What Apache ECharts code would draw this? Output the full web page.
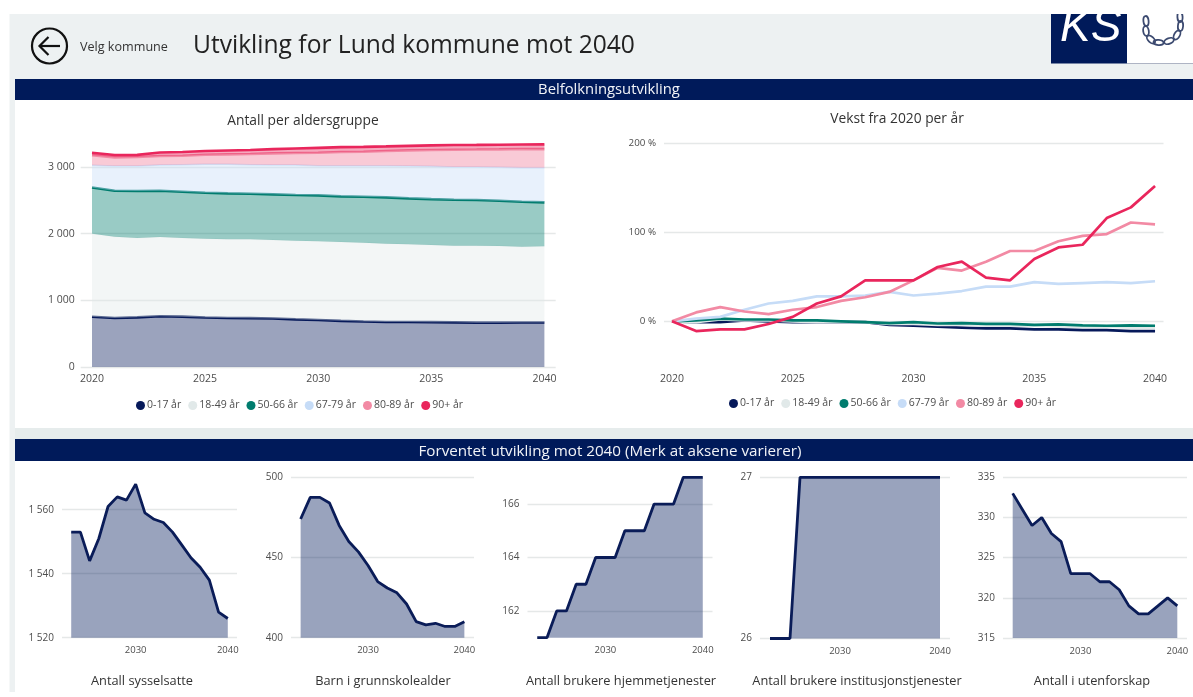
<!DOCTYPE html>
<html><head><meta charset="utf-8">
<style>html,body{margin:0;padding:0;background:#fff}#c{width:1193px;height:697px}</style>
<script src="https://cdn.jsdelivr.net/npm/echarts@6/dist/echarts.min.js"></script>
</head><body><div id="c"></div>
<script>
const years=[2020,2021,2022,2023,2024,2025,2026,2027,2028,2029,2030,2031,2032,2033,2034,2035,2036,2037,2038,2039,2040];
const ageNames=['0-17 år','18-49 år','50-66 år','67-79 år','80-89 år','90+ år'];
const ageColors=['#06195a','#e1e9e9','#007c6e','#c6dcf7','#f28aa4','#e9265c'];
const count0_17=[755,735,745,762,755,742,735,733,728,715,705,692,682,675,675,673,670,665,665,667,668];
const count18_49=[1245,1220,1190,1188,1180,1183,1180,1182,1177,1180,1180,1183,1183,1175,1165,1157,1150,1155,1150,1138,1142];
const count50_66=[694,690,705,695,695,688,690,685,685,685,690,685,690,695,690,688,690,685,680,675,660];
const count67_79=[334,370,375,385,405,427,435,435,440,450,445,460,465,475,485,492,490,495,500,510,518];
const count80_89=[150,130,135,135,135,145,150,160,175,180,195,205,210,220,235,245,260,262,270,280,280];
const count90=[35,35,32,53,55,55,58,60,63,68,73,73,73,70,68,70,70,70,70,68,72];
const growth0_17=[0,-1,-1,1,0,-1,-1,-1,-1,-4,-5,-6,-7,-8,-8,-9,-9,-10,-10,-11,-11];
const growth18_49=[0,-1,2,1,1,0,-1,-1,-1,-3,-3,-4,-4,-5,-5,-5,-6,-6,-6,-7,-7];
const growth50_66=[0,1,3,2,2,1,1,0,-1,-2,-1,-2.5,-2,-3,-3,-4,-3.5,-4.5,-5,-4.5,-5];
const growth67_79=[0,3,5,13,20,23,28,28,29,33,29,31,34,39,39,44,42,43,44,43,45];
const growth80_89=[0,10,16,11,8,13,16,23,27,33,46,60,57,67,79,79,90,96,98,111,109];
const growth90=[0,-11,-9,-9,-3,5,20,28,46,46,46,61,67,49,46,70,83,86,116,128,152];
const smallYears=[2023,2024,2025,2026,2027,2028,2029,2030,2031,2032,2033,2034,2035,2036,2037,2038,2039,2040];
const sysselsatte=[1553,1553,1544,1551,1561,1564,1563,1568,1559,1557,1556,1553,1549,1545,1542,1538,1528,1526];
const grunnskole=[474,487.5,487.5,484,470,460,453.5,445,435,431,428,421,410,408,409,407,407,410];
const hjemmetjenester=[161,161,162,162,163,163,164,164,164,165,165,165,166,166,166,167,167,167];
const institusjon=[26,26,26,27,27,27,27,27,27,27,27,27,27,27,27,27,27,27];
const utenforskap=[333,331,329,330,328,327,323,323,323,322,322,321,319,318,318,319,320,319];
const smallTitles=['Antall sysselsatte','Barn i grunnskolealder','Antall brukere hjemmetjenester','Antall brukere institusjonstjenester','Antall i utenforskap'];
const bigXTicks=[2020,2025,2030,2035,2040];
const smallXTicks=[2030,2040];

const FONT='"Open Sans","Noto Sans",sans-serif';
const NAVY='#001a5a', GRID='#e5e8e8', LABEL='#4d4d4d';
const spaced=v=>String(v).replace(/\B(?=(\d{3})+$)/g,' ');
const pairs=(xs,ys)=>xs.map((x,i)=>[x,ys[i]]);

const grids=[],xAxes=[],yAxes=[],series=[];
function addChart(g,xr,xticks,yr,yticks,fmt,ySize,xSize,yMargin){
  const i=grids.length;
  grids.push(Object.assign({containLabel:false},g));
  xAxes.push({gridIndex:i,type:'value',min:xr[0],max:xr[1],
    axisLine:{show:false,onZero:false},axisTick:{show:false,customValues:xticks},splitLine:{show:false},
    axisLabel:{customValues:xticks,color:LABEL,fontSize:xSize,fontFamily:FONT,margin:8,hideOverlap:false,showMinLabel:true,showMaxLabel:true,formatter:v=>String(v)}});
  yAxes.push({gridIndex:i,type:'value',min:yr[0],max:yr[1],
    axisLine:{show:false},axisTick:{show:false,customValues:yticks},
    splitLine:{show:true,lineStyle:{color:GRID,width:1.3}},
    axisLabel:{customValues:yticks,color:LABEL,fontSize:ySize,fontFamily:FONT,margin:yMargin||8,formatter:fmt}});
  return i;
}

// Top left: stacked area on a category axis
const a0=addChart({left:80.7,top:133.7,width:475,height:233.3},[0,1],bigXTicks,[0,3500],[0,1000,2000,3000],spaced,10.5,10.5,6);
xAxes[a0]={gridIndex:a0,type:'category',data:years.map(String),boundaryGap:true,
  axisLine:{show:false,onZero:false},axisTick:{show:false},splitLine:{show:false},
  axisLabel:{interval:4,color:LABEL,fontSize:10.5,fontFamily:FONT,margin:7,hideOverlap:false}};
[count0_17,count18_49,count50_66,count67_79,count80_89,count90].forEach((d,k)=>{
  series.push({name:ageNames[k],type:'line',xAxisIndex:a0,yAxisIndex:a0,stack:'alder',data:d,
    symbol:'none',showSymbol:false,z:2+k,itemStyle:{color:ageColors[k]},
    lineStyle:{color:k===1?'#f0f4f4':k===3?'#cfe2f8':ageColors[k],width:k===1?1:k===3?1.5:2.6},
    areaStyle:{color:ageColors[k],opacity:k===4?0.45:0.4}});
});
// Top right: growth lines
const a1=addChart({left:664,top:143.3,width:499.5,height:222.5},[2019.67,2040.35],bigXTicks,[-50,200],[0,100,200],v=>v+' %',9.8,10.5,8);
[growth0_17,growth18_49,growth50_66,growth67_79,growth80_89,growth90].forEach((d,k)=>{
  series.push({name:ageNames[k],type:'line',xAxisIndex:a1,yAxisIndex:a1,data:pairs(years,d),
    symbol:'none',showSymbol:false,z:2+k,itemStyle:{color:ageColors[k]},
    lineStyle:{color:ageColors[k],width:2.7}});
});
// Bottom row
const smalls=[
 {d:sysselsatte,l:62,w:175,y:[1520,1570],t:477.7,b:637.7,ticks:[1520,1540,1560]},
 {d:grunnskole,l:291,w:183,y:[400,500],t:477.3,b:637.7,ticks:[400,450,500]},
 {d:hjemmetjenester,l:527.5,w:185,y:[161,167],t:477.3,b:637.7,ticks:[162,164,166]},
 {d:institusjon,l:760,w:190,y:[26,27],t:477.3,b:638.5,ticks:[26,27]},
 {d:utenforskap,l:1003,w:184,y:[315,335],t:477.3,b:638,ticks:[315,320,325,330,335]}
];
smalls.forEach(s=>{
  const i=addChart({left:s.l,top:s.t,width:s.w,height:s.b-s.t},[2022,2041],smallXTicks,s.y,s.ticks,spaced,10,9.5,8);
  series.push({type:'line',xAxisIndex:i,yAxisIndex:i,data:pairs(smallYears,s.d),symbol:'none',showSymbol:false,z:3,
    lineStyle:{color:'#0a1c58',width:2.8},itemStyle:{color:'#0a1c58'},areaStyle:{color:NAVY,opacity:0.4,origin:'start'}});
});

const titleStyle=(s,c)=>({color:c||'#333',fontSize:s,fontFamily:FONT,fontWeight:'normal'});
const titles=[
 {text:'Antall per aldersgruppe',left:303,top:121,padding:0,textAlign:'center',textVerticalAlign:'middle',textStyle:titleStyle(13.8)},
 {text:'Vekst fra 2020 per år',left:897,top:119,padding:0,textAlign:'center',textVerticalAlign:'middle',textStyle:titleStyle(13.8)}
];
[142,383,621,857,1092].forEach((x,k)=>titles.push({text:smallTitles[k],left:x,top:681,padding:0,textAlign:'center',textVerticalAlign:'middle',textStyle:titleStyle(12.8)}));

const legendBase={data:ageNames,icon:'circle',itemWidth:9,itemHeight:9,itemGap:7,textStyle:{color:LABEL,fontSize:10.5,fontFamily:FONT,padding:[0,0,0,-3]},orient:'horizontal',selectedMode:false,padding:0};

function rect(x,y,w,h,fill,z){return {type:'rect',shape:{x,y,width:w,height:h},style:{fill},z:z===undefined?-10:z,silent:true};}
function txt(x,y,t,size,fill,align,z,extra){return {type:'text',x,y,style:Object.assign({text:t,fontSize:size,fontFamily:FONT,fill,textAlign:align||'left',textVerticalAlign:'middle'},extra||{}),z:z===undefined?20:z,silent:true};}
function link(cx,cy,rx,ry,rot){return {type:'ellipse',x:cx,y:cy,rotation:rot,shape:{cx:0,cy:0,rx,ry},style:{fill:'none',stroke:'#3c4a70',lineWidth:1.8},z:21,silent:true};}

const graphics=[
 rect(9.5,14,1184,678,'#edf1f2'),
 rect(15,100,1178,328,'#ffffff'),
 rect(15,428,1178,11,'#e6ecec'),
 rect(15,461,1178,231,'#ffffff'),
 rect(15,79,1178,21,NAVY,5),
 rect(15,439,1178,22,NAVY,5),
 txt(609,89.5,'Belfolkningsutvikling',14.8,'#f2f4f8','center',6),
 txt(610,451.5,'Forventet utvikling mot 2040 (Merk at aksene varierer)',15.2,'#f2f4f8','center',6),
 // back button
 {type:'circle',shape:{cx:49.5,cy:46,r:17.5},style:{fill:'none',stroke:'#111',lineWidth:2.2},z:10,silent:true},
 {type:'polyline',shape:{points:[[40,46],[60,46]]},style:{stroke:'#111',lineWidth:2.2,fill:'none'},z:10,silent:true},
 {type:'polyline',shape:{points:[[48.5,37],[39.5,46],[48.5,55]]},style:{stroke:'#111',lineWidth:2.2,fill:'none'},z:10,silent:true},
 txt(80,47.5,'Velg kommune',12.6,'#333'),
 txt(193,45.5,'Utvikling for Lund kommune mot 2040',24.6,'#222'),
 // logo
 rect(1051,14,76,49.5,NAVY,15),
 rect(1127,14,66,49.5,'#ffffff',15),
 rect(1127,63,66,1,'#aeb4c4',15),
 txt(1060,28,'KS',46,'#ffffff','left',16,{fontFamily:'"Liberation Sans",sans-serif',fontStyle:'italic',fontWeight:'normal'}),
 link(1146,21,2.6,5,0.1),link(1146,31,2.8,5,0.15),link(1151,39.5,5,2.8,-0.75),link(1158.5,42.5,5,2.6,-0.1),
 link(1169,41,5,2.8,0.35),link(1177,35,2.8,5,-0.5),link(1180.5,26,2.6,5,-0.1),link(1180,17,2.6,5,0.05),
 rect(1040,0,153,14,'#ffffff',30)
];

const chart=echarts.init(document.getElementById('c'),null,{renderer:'canvas'});
chart.setOption({
  animation:false,backgroundColor:'#ffffff',
  title:titles,grid:grids,xAxis:xAxes,yAxis:yAxes,series:series,
  legend:[
    Object.assign({},legendBase,{left:136,top:400}),
    Object.assign({},legendBase,{left:729,top:398})
  ],
  graphic:{elements:graphics}
});
</script></body></html>
